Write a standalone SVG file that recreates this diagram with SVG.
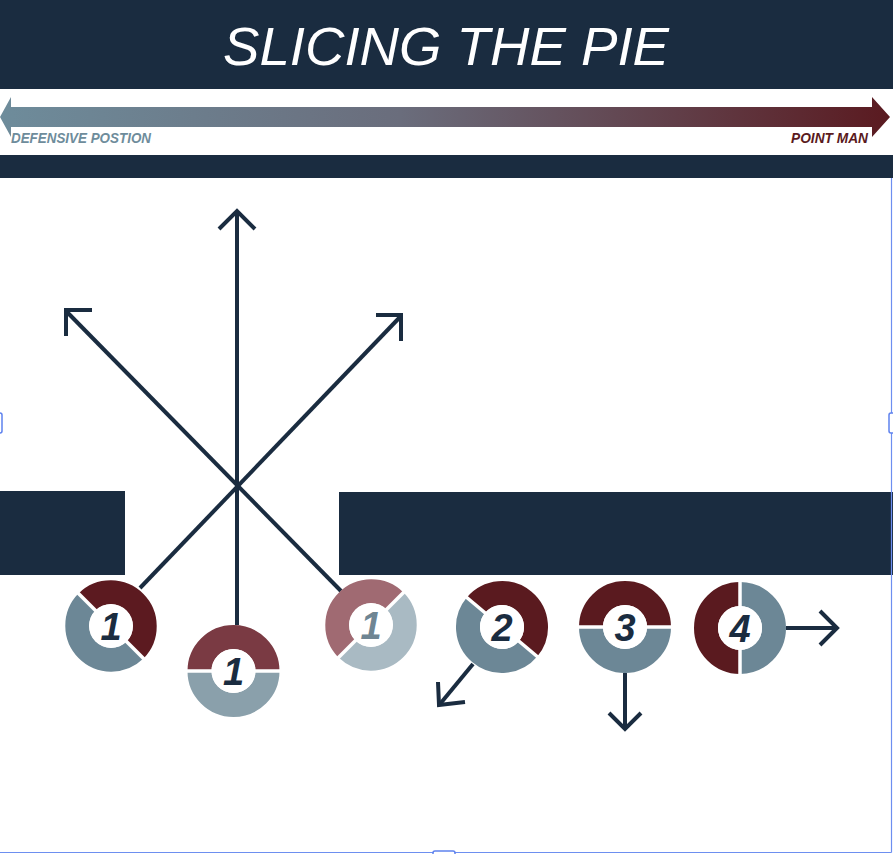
<svg xmlns="http://www.w3.org/2000/svg" width="893" height="854" viewBox="0 0 893 854">
<defs>
<linearGradient id="grad" x1="0" y1="0" x2="1" y2="0">
<stop offset="0" stop-color="#6e8c9b"/>
<stop offset="0.45" stop-color="#6a6d7c"/>
<stop offset="1" stop-color="#5a1a20"/>
</linearGradient>
<style>
.navy{fill:#1a2c40}
.ln{stroke:#1a2c40;stroke-width:4;fill:none;stroke-linecap:butt;stroke-linejoin:miter}
.seg{fill:none;stroke-width:24}
.gap{stroke:#ffffff;stroke-width:3.5}
.hole{fill:#ffffff}
.num{font-family:"Liberation Sans",Arial,sans-serif;font-weight:bold;font-style:italic;font-size:38px;text-anchor:middle;fill:#1a2c40}
.sel{stroke:#6d8ff0;stroke-width:1.2;fill:none}
.hdl{fill:#ffffff;stroke:#5f82ee;stroke-width:1.5}
</style>
</defs>
<rect width="893" height="854" fill="#ffffff"/>

<g id="header">
<rect class="navy" x="0" y="0" width="893" height="89"/>
<text x="446" y="65" font-family="Liberation Sans, Arial, sans-serif" font-style="italic" font-size="53" fill="#ffffff" text-anchor="middle" textLength="446" lengthAdjust="spacingAndGlyphs">SLICING THE PIE</text>
</g>

<g id="scale">
<polygon points="0,117 11,97 11,107 872,107 872,97 890,117 872,137 872,127 11,127 11,137" fill="url(#grad)"/>
<text x="11" y="143" font-family="Liberation Sans, Arial, sans-serif" font-weight="bold" font-style="italic" font-size="14" fill="#6e8c9b" textLength="140" lengthAdjust="spacingAndGlyphs">DEFENSIVE POSTION</text>
<text x="791" y="143" font-family="Liberation Sans, Arial, sans-serif" font-weight="bold" font-style="italic" font-size="14" fill="#5a1a20" textLength="77" lengthAdjust="spacingAndGlyphs">POINT MAN</text>
</g>

<g id="band"><rect class="navy" x="0" y="155" width="893" height="23"/></g>

<g id="walls">
<rect class="navy" x="0" y="491" width="125" height="84"/>
<rect class="navy" x="339" y="492" width="554" height="83"/>
</g>

<g id="connectors">
<line class="ln" x1="237" y1="212" x2="237" y2="625"/>
<polyline class="ln" points="219,229 237,211 255,229"/>
<line class="ln" x1="67" y1="312" x2="341" y2="591"/>
<polyline class="ln" points="92,310 66,310 66,336"/>
<line class="ln" x1="140" y1="588" x2="401" y2="316"/>
<polyline class="ln" points="376,315 401,315 401,341"/>
<line class="ln" x1="473" y1="664" x2="440" y2="704"/>
<polyline class="ln" points="438,682 439,705 465,702"/>
<line class="ln" x1="625" y1="673" x2="625" y2="728"/>
<polyline class="ln" points="609,713 625,729 641,713"/>
<line class="ln" x1="786" y1="628" x2="837" y2="628"/>
<polyline class="ln" points="820,611 837,628 820,645"/>
</g>

<g id="ring1a">
<path class="seg" stroke="#5c1a20" d="M86.96 601.96 A34 34 0 0 1 135.04 650.04"/>
<path class="seg" stroke="#6c8796" d="M135.04 650.04 A34 34 0 0 1 86.96 601.96"/>
<line class="gap" x1="77" y1="592" x2="145" y2="660"/>
<circle class="hole" cx="111" cy="626" r="22"/>
<text class="num" x="111" y="640">1</text>
</g>

<g id="ring1b">
<path class="seg" stroke="#7a3a43" d="M199.5 671 A34 34 0 0 1 267.5 671"/>
<path class="seg" stroke="#8aa0ab" d="M267.5 671 A34 34 0 0 1 199.5 671"/>
<line class="gap" x1="185" y1="671" x2="282" y2="671"/>
<circle class="hole" cx="233.5" cy="671" r="22"/>
<text class="num" x="233.5" y="685">1</text>
</g>

<g id="ring1c">
<path class="seg" stroke="#a06a72" d="M346.96 649.04 A34 34 0 0 1 395.04 600.96"/>
<path class="seg" stroke="#a9bac3" d="M395.04 600.96 A34 34 0 0 1 346.96 649.04"/>
<line class="gap" x1="337" y1="659" x2="405" y2="591"/>
<circle class="hole" cx="371" cy="625" r="22"/>
<text class="num" x="371" y="639" fill="#6e8593" style="fill:#6e8593">1</text>
</g>

<g id="ring2">
<path class="seg" stroke="#5a1a1f" d="M475.95 605.14 A34 34 0 0 1 528.05 648.86"/>
<path class="seg" stroke="#6c8796" d="M528.05 648.86 A34 34 0 0 1 475.95 605.14"/>
<line class="gap" x1="465" y1="596" x2="539" y2="658"/>
<circle class="hole" cx="502" cy="627" r="22"/>
<text class="num" x="502" y="641">2</text>
</g>

<g id="ring3">
<path class="seg" stroke="#5a1a1f" d="M591 627 A34 34 0 0 1 659 627"/>
<path class="seg" stroke="#6c8796" d="M659 627 A34 34 0 0 1 591 627"/>
<line class="gap" x1="576" y1="627" x2="674" y2="627"/>
<circle class="hole" cx="625" cy="627" r="22"/>
<text class="num" x="625" y="641">3</text>
</g>

<g id="ring4">
<path class="seg" stroke="#5a1a1f" d="M740 662 A34 34 0 0 1 740 594"/>
<path class="seg" stroke="#6c8796" d="M740 594 A34 34 0 0 1 740 662"/>
<line class="gap" x1="740" y1="579" x2="740" y2="677"/>
<circle class="hole" cx="740" cy="628" r="22"/>
<text class="num" x="740" y="642">4</text>
</g>

<g id="selection">
<line class="sel" x1="891.5" y1="178" x2="891.5" y2="852.5"/>
<line class="sel" x1="0" y1="852.5" x2="891.5" y2="852.5"/>
<rect class="hdl" x="-3" y="413" width="5" height="20" rx="2"/>
<rect class="hdl" x="889" y="413" width="6" height="20" rx="2"/>
<rect class="hdl" x="433" y="851" width="22" height="6" rx="2"/>
</g>
</svg>
